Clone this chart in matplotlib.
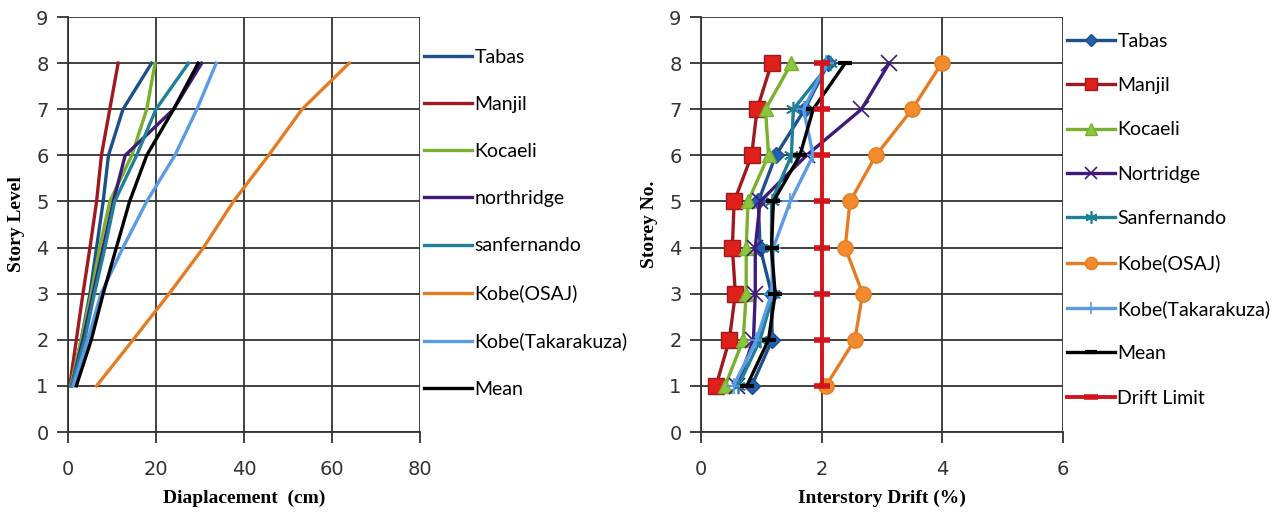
import matplotlib
matplotlib.use("Agg")
import matplotlib.pyplot as plt

levels = [1, 2, 3, 4, 5, 6, 7, 8]
drift_levels = [1, 2, 3, 4, 5, 6, 7, 8]

# displacement (cm)
disp_tabas = [0.8, 3.0, 5.0, 6.5, 8.0, 9.2, 12.5, 19.0]
disp_manjil = [0.4, 1.9, 3.4, 5.0, 6.5, 7.6, 9.5, 11.4]
disp_kocaeli = [0.6, 3.0, 5.3, 7.2, 9.5, 14.5, 17.9, 19.8]
disp_northridge = [0.8, 3.4, 5.7, 8.0, 10.3, 13.0, 24.0, 30.4]
disp_sanfernando = [0.8, 3.8, 6.0, 8.4, 10.6, 15.6, 20.0, 27.4]
disp_kobe_osaj = [6.5, 14.8, 23.0, 30.8, 37.6, 45.6, 53.2, 63.9]
disp_kobe_taka = [1.2, 4.5, 7.5, 12.5, 17.9, 24.3, 29.3, 33.7]
disp_mean = [1.9, 5.3, 8.0, 11.0, 14.0, 17.9, 24.0, 29.6]

# interstory drift (%)
drift_tabas = [0.84, 1.18, 1.17, 0.98, 0.95, 1.24, 1.72, 2.11]
drift_manjil = [0.25, 0.47, 0.57, 0.52, 0.55, 0.84, 0.93, 1.17]
drift_kocaeli = [0.40, 0.70, 0.75, 0.75, 0.78, 1.12, 1.07, 1.50]
drift_nortridge = [0.60, 0.87, 0.90, 0.90, 0.98, 1.75, 2.66, 3.12]
drift_sanfernando = [0.62, 0.98, 1.20, 1.17, 1.17, 1.50, 1.53, 2.14]
drift_kobe_osaj = [2.07, 2.55, 2.68, 2.39, 2.47, 2.90, 3.50, 3.99]
drift_kobe_taka = [0.54, 0.92, 1.17, 1.20, 1.48, 1.86, 1.70, 2.08]
drift_mean = [0.76, 1.12, 1.23, 1.17, 1.20, 1.64, 1.86, 2.39]
drift_limit = [2, 2, 2, 2, 2, 2, 2, 2]

c_tabas = "#1c4f8c"
c_manjil = "#a0191f"
c_kocaeli = "#78b12c"
c_north = "#40197a"
c_sanf = "#1f8099"
c_osaj = "#e57c24"
c_taka = "#5b9be6"
c_limit = "#d4141c"

fig = plt.figure(figsize=(12.85, 5.17), dpi=100)
ax1 = fig.add_axes([0.0529, 0.1644, 0.2739, 0.8026])
ax2 = fig.add_axes([0.5455, 0.1644, 0.2817, 0.8026])

lw = 2.4
ax1.plot(disp_tabas, levels, color=c_tabas, lw=lw, label="Tabas")
ax1.plot(disp_manjil, levels, color=c_manjil, lw=lw, label="Manjil")
ax1.plot(disp_kocaeli, levels, color=c_kocaeli, lw=lw, label="Kocaeli")
ax1.plot(disp_northridge, levels, color=c_north, lw=lw, label="northridge")
ax1.plot(disp_sanfernando, levels, color=c_sanf, lw=lw, label="sanfernando")
ax1.plot(disp_kobe_osaj, levels, color=c_osaj, lw=lw, label="Kobe(OSAJ)")
ax1.plot(disp_kobe_taka, levels, color=c_taka, lw=lw, label="Kobe(Takarakuza)")
ax1.plot(disp_mean, levels, color="black", lw=lw, label="Mean")

ax2.plot(drift_tabas, drift_levels, color=c_tabas, lw=lw, marker="D", ms=8,
         mfc="#2060b0", mec=c_tabas, label="Tabas")
ax2.plot(drift_manjil, drift_levels, color=c_manjil, lw=lw, marker="s", ms=11,
         mfc="#e0201b", mec=c_manjil, label="Manjil")
ax2.plot(drift_kocaeli, drift_levels, color=c_kocaeli, lw=lw, marker="^", ms=10,
         mfc="#8cc63f", mec=c_kocaeli, label="Kocaeli")
ax2.plot(drift_nortridge, drift_levels, color=c_north, lw=lw, marker="x", ms=11,
         mew=1.2, mec=c_north, label="Nortridge")
ax2.plot(drift_sanfernando, drift_levels, color=c_sanf, lw=lw, marker=(6, 2, 0), ms=11,
         mew=1.2, mec=c_sanf, label="Sanfernando")
ax2.plot(drift_kobe_osaj, drift_levels, color=c_osaj, lw=lw, marker="o", ms=11,
         mfc="#f28a2e", mec=c_osaj, label="Kobe(OSAJ)")
ax2.plot(drift_kobe_taka, drift_levels, color=c_taka, lw=lw, marker="+", ms=11,
         mew=1.2, mec=c_taka, label="Kobe(Takarakuza)")
ax2.plot(drift_mean, drift_levels, color="black", lw=lw, marker="_", ms=10,
         mew=3, label="Mean")
ax2.plot(drift_limit, drift_levels, color=c_limit, lw=lw + 0.4, marker="_", ms=12,
         mew=4, label="Drift Limit")

for ax, xmax, xstep in [(ax1, 80, 20), (ax2, 6, 2)]:
    ax.set_xlim(0, xmax)
    ax.set_ylim(0, 9)
    ax.set_xticks(range(0, xmax + 1, xstep))
    ax.set_yticks(range(0, 10))
    ax.grid(True, color="#333333", lw=1.3)
    ax.set_axisbelow(True)
    for s in ["top", "right"]:
        ax.spines[s].set_visible(False)
    for s in ["left", "bottom"]:
        ax.spines[s].set_color("#333333")
        ax.spines[s].set_linewidth(1.3)
    ax.tick_params(direction="out", length=8, width=1.3, color="#333333",
                   labelsize=14, labelcolor="#333333")
    ax.tick_params(axis="x", pad=12)
    ax.tick_params(axis="y", pad=6)

lab = dict(family="Liberation Serif", fontweight="bold", fontsize=14)
ax1.set_xlabel("Diaplacement  (cm)", labelpad=8, **lab)
ax1.set_ylabel("Story Level", labelpad=8, **lab)
ax2.set_xlabel("Interstory Drift (%)", labelpad=8, **lab)
ax2.set_ylabel("Storey No.", labelpad=8, **lab)

leg_font = dict(family="Lato", size=14)
ax1.legend(loc="upper left", bbox_to_anchor=(1.0, 0.933), frameon=False,
           prop=leg_font, handlelength=2.5, handletextpad=0.1,
           labelspacing=1.55, borderpad=0, borderaxespad=0.2)
ax2.legend(loc="upper left", bbox_to_anchor=(1.0, 0.972), frameon=False,
           prop=leg_font, handlelength=2.5, handletextpad=0.1,
           labelspacing=1.41, borderpad=0, borderaxespad=0.2, markerscale=0.8)

fig.savefig("out.png", dpi=100, facecolor="white")
